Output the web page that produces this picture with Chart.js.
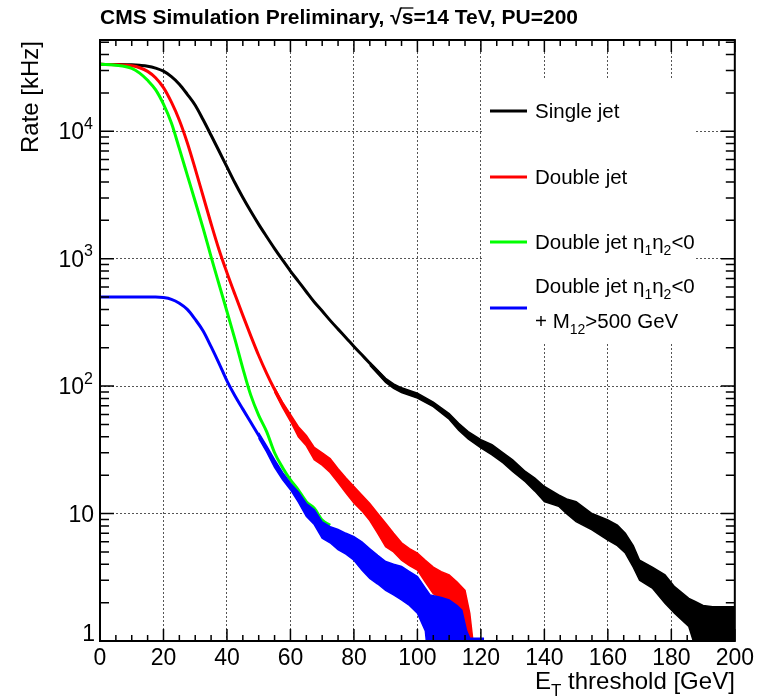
<!DOCTYPE html>
<html>
<head>
<meta charset="utf-8">
<title>L1 jet trigger rates</title>
<script src="https://cdn.jsdelivr.net/npm/chart.js@4.4.1/dist/chart.umd.min.js"></script>
<style>
    html, body { margin: 0; padding: 0; background: #ffffff; }
    #box { position: relative; width: 758px; height: 697px; }
</style>
</head>
<body>
<div id="box"><canvas id="rateChart"></canvas></div>
<script>
// E_T threshold [GeV] for the smooth part of the curves
const etCurve = [0, 5, 10, 12.5, 15, 17.5, 20, 22.5, 25, 27.5, 30, 32.5, 35, 37.5, 40, 42.5, 45, 47.5,
    50, 52.5, 55, 57.5, 60, 62.5, 65, 67.5, 70, 72.5, 75, 77.5, 80, 82.5, 85, 87.5, 90];

// rates [kHz]
const singleJet = [33500, 33400, 33200, 32900, 32400, 31300, 29600, 26800, 23400, 19500,
    16000, 12300, 9300, 7000, 5250, 3940, 3020, 2355, 1860, 1490,
    1200, 977, 800, 664, 550, 457, 388, 328, 280, 240,
    205, 176, 151, 130, 111];
const doubleJet = [33500, 33300, 32600, 31500, 29500, 26300, 22000, 16900, 12200, 8130,
    5070, 3090, 1880, 1175, 776, 525, 359, 248, 174, 126,
    94, 72, 57, 45, 38, 31, 27, 24, 20, 17,
    14.2, 12, 10.2, 8.4, 6.9];
const oppositeJet = [33500, 33000, 31200, 28600, 25100, 21200, 16300, 11600, 7300, 4530,
    2810, 1730, 1035, 630, 385, 234, 138, 85, 59, 44,
    30, 23, 18.4, 15.3, 12.4, 11, 8.9, 8.1, null, null,
    null, null, null, null, null];
const massJet = [500, 500, 500, 500, 500, 500, 495, 480, 447, 400,
    334, 271, 204, 151, 110, 84, 66, 52, 41, 32,
    25, 19.8, 16.3, 13.4, 10.8, 9.3, 7.5, 6.8, 6.3, 5.8,
    5.4, 4.8, 4.2, 3.7, 3.3];

// statistical bands in the tails (upper / lower edge)
const etBandSingle = [85, 90, 92.5, 95, 100, 105, 110, 113, 116, 120, 123.5, 127, 130, 134, 137, 140, 144.5,
    147, 150, 155, 160, 163, 165.5, 168, 170, 174, 178, 181, 185.5, 187.5, 190, 193, 200];
const singleHi = [154, 115, 104, 97, 88, 75, 61, 51, 44, 38, 34.7, 30, 26.4, 21.4, 19, 16.3, 14,
    13, 12.4, 10, 8.9, 8.1, 7.0, 5.6, 4.3, 3.8, 3.3, 2.67, 2.16, 2.04, 1.9, 1.86, 1.86];
const singleLo = [146, 107, 96, 89, 80.5, 69, 55, 45, 38.5, 32.7, 28.9, 25, 21.4, 17.8, 15, 12.4, 11.4,
    10, 8.65, 7.45, 6.2, 5.6, 4.9, 3.8, 3.0, 2.6, 1.98, 1.65, 1.3, 0.9, 0.6, 0.5, 0.5];

const etBandDouble = [55, 57.5, 60, 62.5, 65, 67.5, 70, 72.5, 75, 77.5, 80, 82.5, 85, 87.5,
    90, 92.5, 95, 97.5, 100, 102.5, 105, 107.5, 110, 112.5, 115, 116.5, 117.5];
const doubleHi = [97, 75, 60, 48, 41, 33, 30, 27, 22.5, 19, 16.3, 14, 12, 10,
    8.4, 7, 5.9, 5.3, 4.9, 4.3, 3.8, 3.5, 3.3, 2.9, 2.5, 1.65, 1.0];
const doubleLo = [90, 68, 53, 40, 34, 26.5, 24, 21, 17.5, 14.5, 12.1, 10.5, 8.8, 7,
    5.5, 5, 4.3, 3.9, 3.6, 2.9, 2.35, 2.15, 2.0, 1.85, 1.45, 0.5, 0.5];

const etBandMass = [50, 52.5, 55, 57.5, 60, 62.5, 65, 67.5, 70, 72.5, 75, 77.5, 80, 82.5, 85,
    87.5, 90, 92.5, 95, 97.5, 100, 102.5, 104, 107.5, 110, 112.5, 114, 115.5, 116.5, 121];
const massHi = [43, 34, 26.5, 21, 17.3, 14.8, 12, 10.7, 8.6, 7.9, 7.5, 7.0, 6.6, 6.0, 5.3,
    4.7, 4.2, 4.0, 3.84, 3.5, 3.2, 2.6, 2.3, 2.2, 2.1, 1.9, 1.75, 1.2, 1.05, 1.05];
const massLo = [39, 30.5, 23, 18.5, 15.4, 12.3, 9.5, 8.2, 6.4, 5.9, 5.2, 4.8, 4.3, 3.6, 3.1,
    2.8, 2.5, 2.3, 2.1, 1.9, 1.65, 1.2, 0.5, 0.5, 0.5, 0.5, 0.5, 0.5, 0.5, 0.5];

const yTicks = [1, 10, 100, 1000, 10000];
const yMax = 52000;

const FONT = '"Liberation Sans", Arial, Helvetica, sans-serif';
const BLACK = '#000000', RED = '#ff0000', GREEN = '#00ff00', BLUE = '#0000ff';

function pts(xs, ys) {
    return xs.map((x, i) => ({ x: x, y: ys[i] }));
}

function curve(label, ys, color, order) {
    return {
        label: label, data: pts(etCurve, ys), borderColor: color, borderWidth: 3,
        pointRadius: 0, fill: false, cubicInterpolationMode: 'monotone', order: order
    };
}

function band(label, xs, hi, lo, color, order) {
    return [
        { label: label + ' up', data: pts(xs, hi), borderColor: color, backgroundColor: color,
            borderWidth: 1.5, pointRadius: 0, fill: '+1', order: order },
        { label: label + ' down', data: pts(xs, lo), borderColor: color,
            borderWidth: 1.5, pointRadius: 0, fill: false, order: order }
    ];
}

// text with sub/superscripts: parts = [[text, 'sub'|'sup'|undefined], ...]
function drawRich(ctx, parts, x, y, size, align, weight) {
    const w = weight || '';
    const fontFor = p => w + ' ' + (p[1] ? Math.round(size * 0.7) : size) + 'px ' + FONT;
    const widths = parts.map(p => { ctx.font = fontFor(p); return ctx.measureText(p[0]).width; });
    const total = widths.reduce((a, b) => a + b, 0);
    let cx = align === 'right' ? x - total : x;
    ctx.textAlign = 'left';
    ctx.textBaseline = 'alphabetic';
    parts.forEach((p, i) => {
        ctx.font = fontFor(p);
        let dy = 0;
        if (p[1] === 'sub') dy = size * 0.3;
        if (p[1] === 'sup') dy = -size * 0.45;
        ctx.fillText(p[0], cx, y + dy);
        cx += widths[i];
    });
    return total;
}

const rootFrame = {
    id: 'rootFrame',
    afterDraw(chart) {
        const ctx = chart.ctx;
        const area = chart.chartArea;
        const xs = chart.scales.x, ys = chart.scales.y;
        ctx.save();

        // legend
        ctx.fillStyle = '#ffffff';
        ctx.fillRect(484, 78, 211, 266);
        const entries = [
            { color: BLACK, y: 111, lines: [[['Single jet']]] },
            { color: RED, y: 177, lines: [[['Double jet']]] },
            { color: GREEN, y: 242, lines: [[['Double jet \u03b7'], ['1', 'sub'], ['\u03b7'], ['2', 'sub'], ['<0']]] },
            { color: BLUE, y: 308, lines: [[['Double jet \u03b7'], ['1', 'sub'], ['\u03b7'], ['2', 'sub'], ['<0']],
                [['+ M'], ['12', 'sub'], ['>500 GeV']]] }
        ];
        ctx.lineWidth = 3;
        entries.forEach(e => {
            ctx.strokeStyle = e.color;
            ctx.beginPath();
            ctx.moveTo(490, e.y);
            ctx.lineTo(527, e.y);
            ctx.stroke();
            ctx.fillStyle = '#000';
            if (e.lines.length === 1) {
                drawRich(ctx, e.lines[0], 535, e.y + 7, 20.5);
            } else {
                drawRich(ctx, e.lines[0], 535, e.y - 15, 20.5);
                drawRich(ctx, e.lines[1], 535, e.y + 20, 20.5);
            }
        });

        // frame
        ctx.strokeStyle = '#000';
        ctx.lineWidth = 2;
        ctx.strokeRect(area.left, area.top, area.right - area.left, area.bottom - area.top);

        // ticks
        ctx.lineWidth = 1.5;
        ctx.beginPath();
        for (let e = 0; e <= 200; e += 5) {
            const px = xs.getPixelForValue(e);
            const len = e % 20 === 0 ? 12 : 6;
            ctx.moveTo(px, area.bottom); ctx.lineTo(px, area.bottom - len);
            ctx.moveTo(px, area.top); ctx.lineTo(px, area.top + len);
        }
        yTicks.forEach(d => {
            for (let m = 1; m <= 9; m++) {
                const v = d * m;
                if (v > yMax) break;
                const py = ys.getPixelForValue(v);
                const len = m === 1 ? 14 : 9;
                ctx.moveTo(area.left, py); ctx.lineTo(area.left + len, py);
                ctx.moveTo(area.right, py); ctx.lineTo(area.right - len, py);
            }
        });
        ctx.stroke();

        // y tick labels
        ctx.fillStyle = '#000';
        yTicks.forEach(v => {
            const py = ys.getPixelForValue(v);
            const exp = Math.round(Math.log10(v));
            if (exp === 0) {
                drawRich(ctx, [['1']], 95, py, 23, 'right');
            } else if (exp === 1) {
                drawRich(ctx, [['10']], 94, py + 8, 23, 'right');
            } else {
                drawRich(ctx, [['10'], [String(exp), 'sup']], 93, py + 8, 23, 'right');
            }
        });

        // axis titles
        drawRich(ctx, [['E'], ['T', 'sub'], [' threshold [GeV]']], area.right, 689, 24, 'right');
        ctx.save();
        ctx.translate(38, area.top + 1);
        ctx.rotate(-Math.PI / 2);
        drawRich(ctx, [['Rate [kHz]']], 0, 0, 24, 'right');
        ctx.restore();

        // title
        const tx = 100, ty = 24;
        ctx.font = 'bold 21px ' + FONT;
        ctx.textAlign = 'left';
        ctx.textBaseline = 'alphabetic';
        const t1 = 'CMS Simulation Preliminary, ';
        ctx.fillText(t1, tx, ty);
        let cx = tx + ctx.measureText(t1).width;
        ctx.fillText('\u221a', cx, ty);
        cx += ctx.measureText('\u221a').width;
        const sw = ctx.measureText('s').width;
        ctx.fillText('s', cx, ty);
        ctx.lineWidth = 1.3;
        ctx.beginPath();
        ctx.moveTo(cx - 1, ty - 16);
        ctx.lineTo(cx + sw, ty - 16);
        ctx.stroke();
        cx += sw;
        ctx.fillText('=14 TeV, PU=200', cx, ty);

        ctx.restore();
    }
};

const datasets = [
    curve('Double jet \u03b7\u2081\u03b7\u2082<0 + M\u2081\u2082>500 GeV', massJet, BLUE, 1),
    ...band('mass band', etBandMass, massHi, massLo, BLUE, 2),
    curve('Double jet \u03b7\u2081\u03b7\u2082<0', oppositeJet, GREEN, 3),
    curve('Double jet', doubleJet, RED, 4),
    ...band('double band', etBandDouble, doubleHi, doubleLo, RED, 5),
    curve('Single jet', singleJet, BLACK, 6),
    ...band('single band', etBandSingle, singleHi, singleLo, BLACK, 7)
];

const ctx = document.getElementById('rateChart').getContext('2d');
const rateChart = new Chart(ctx, { //eslint-disable-line
    type: 'line',
    data: { datasets: datasets },
    options: {
        responsive: true,
        maintainAspectRatio: false,
        animation: false,
        layout: { padding: { top: 40, right: 21, left: 0, bottom: 0 } },
        plugins: {
            legend: { display: false },
            tooltip: { enabled: false }
        },
        scales: {
            x: {
                type: 'linear',
                min: 0,
                max: 200,
                ticks: { stepSize: 20, color: '#000', padding: 4, font: { family: FONT, size: 23 } },
                grid: { color: '#555', lineWidth: 1, drawTicks: false },
                border: { display: false, dash: [2, 2] },
                afterFit: (s) => { s.height = 56; }
            },
            y: {
                type: 'logarithmic',
                min: 1,
                max: yMax,
                afterBuildTicks: (s) => { s.ticks = yTicks.map(v => ({ value: v })); },
                ticks: { display: false },
                grid: { color: '#555', lineWidth: 1, drawTicks: false },
                border: { display: false, dash: [2, 2] },
                afterFit: (s) => { s.width = 100; }
            }
        }
    },
    plugins: [rootFrame]
});
</script>
</body>
</html>
